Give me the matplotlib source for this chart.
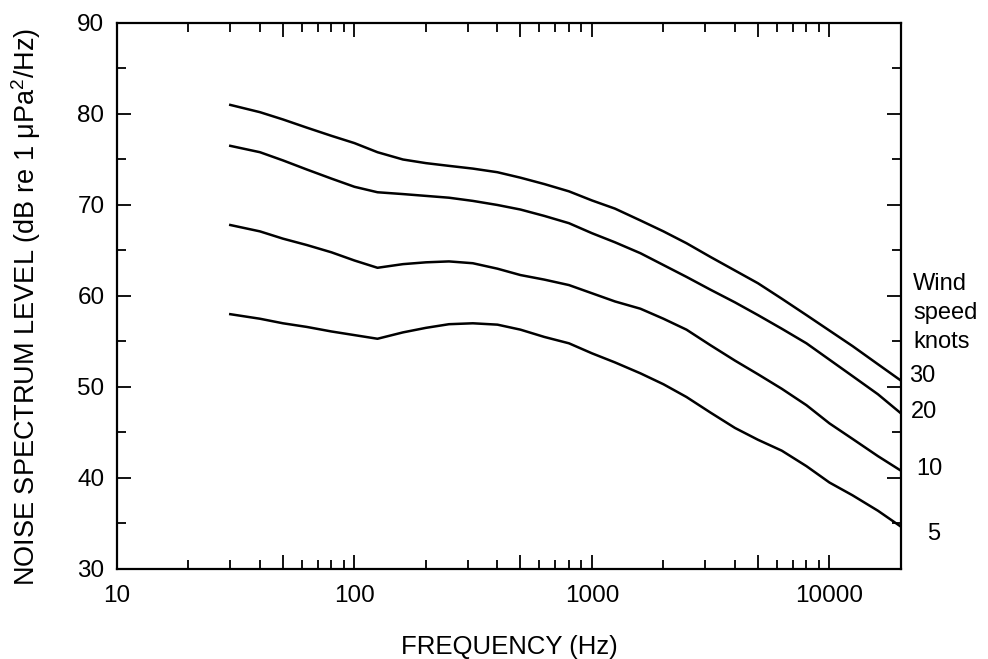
import matplotlib
matplotlib.use('Agg')
import matplotlib.pyplot as plt
from matplotlib.ticker import FixedLocator, FuncFormatter

plt.rcParams['font.family'] = ['Liberation Sans', 'DejaVu Sans']
plt.rcParams['mathtext.fontset'] = 'custom'
plt.rcParams['mathtext.rm'] = 'Liberation Sans'
plt.rcParams['mathtext.it'] = 'Liberation Sans:italic'

# frequency grid (Hz)
freq = [30, 40, 50, 63, 80, 100, 125, 160, 200, 250, 315, 400, 500, 630, 800,
        1000, 1250, 1600, 2000, 2500, 3150, 4000, 5000, 6300, 8000,
        10000, 12500, 16000, 20000]

# noise spectrum level (dB re 1 uPa^2/Hz) per wind speed
knots30 = [81.0, 80.2, 79.4, 78.5, 77.6, 76.8, 75.8, 75.0, 74.6, 74.3, 74.0, 73.6,
           73.0, 72.3, 71.5, 70.5, 69.6, 68.3, 67.1, 65.8, 64.3, 62.8, 61.4, 59.7,
           57.9, 56.2, 54.5, 52.5, 50.7]
knots20 = [76.5, 75.8, 74.9, 73.9, 72.9, 72.0, 71.4, 71.2, 71.0, 70.8, 70.45, 70.0,
           69.5, 68.8, 68.0, 66.9, 65.9, 64.7, 63.4, 62.1, 60.7, 59.3, 57.9, 56.4,
           54.8, 53.0, 51.2, 49.2, 47.1]
knots10 = [67.8, 67.1, 66.3, 65.6, 64.8, 63.9, 63.1, 63.5, 63.7, 63.8, 63.6, 63.0,
           62.3, 61.8, 61.2, 60.3, 59.4, 58.6, 57.5, 56.3, 54.6, 52.9, 51.4, 49.8,
           48.0, 46.0, 44.3, 42.4, 40.8]
knots5 = [58.0, 57.5, 57.0, 56.6, 56.1, 55.7, 55.3, 56.0, 56.5, 56.9, 57.0, 56.85,
          56.3, 55.5, 54.8, 53.7, 52.7, 51.5, 50.3, 48.9, 47.2, 45.5, 44.2, 43.0,
          41.3, 39.5, 38.1, 36.4, 34.65]

speeds = ['30', '20', '10', '5']
curves = [knots30, knots20, knots10, knots5]

fig = plt.figure(figsize=(9.88, 6.59), dpi=100)
ax = fig.add_axes([0.1184, 0.1366, 0.7935, 0.8285])

for y in curves:
    ax.plot(freq, y, color='black', lw=1.8)

ax.set_xscale('log')
ax.set_xlim(10, 20000)
ax.set_ylim(30, 90)

# decades and the 5x ticks get the long marks, labels only on decades
major_x = [10, 50, 100, 500, 1000, 5000, 10000]
minor_x = [m * d for d in [10, 100, 1000] for m in [2, 3, 4, 6, 7, 8, 9]] + [20000]
ax.xaxis.set_major_locator(FixedLocator(major_x))
ax.xaxis.set_minor_locator(FixedLocator(minor_x))
ax.xaxis.set_major_formatter(FuncFormatter(
    lambda v, p: '%d' % v if v in (10, 100, 1000, 10000) else ''))
ax.xaxis.set_minor_formatter(FuncFormatter(lambda v, p: ''))
ax.set_yticks(range(30, 91, 10))
ax.set_yticks(range(35, 90, 10), minor=True)

ax.tick_params(which='both', direction='in', top=True, right=True,
               width=1.3, labelsize=17.5)
ax.tick_params(which='major', length=10)
ax.tick_params(which='minor', length=6.3)
ax.tick_params(axis='y', pad=9)
ax.tick_params(axis='x', pad=11.5)
for s in ax.spines.values():
    s.set_linewidth(1.6)

ax.set_xlabel('FREQUENCY (Hz)', fontsize=18.5, labelpad=20)
ax.set_ylabel(r'NOISE SPECTRUM LEVEL (dB re 1 μPa$^{2}$/Hz)', fontsize=19.5)
ax.yaxis.set_label_coords(-0.094, 0.48)

# wind speed labels to the right of the curves
ax.text(1.0153, 0.511, 'Wind', transform=ax.transAxes, fontsize=17, va='baseline')
ax.text(1.0153, 0.458, 'speed', transform=ax.transAxes, fontsize=17, va='baseline')
ax.text(1.0153, 0.405, 'knots', transform=ax.transAxes, fontsize=17, va='baseline')
label_pos = [(1.0106, 0.343), (1.0124, 0.277), (1.020, 0.172), (1.0328, 0.053)]
for s, (tx, ty) in zip(speeds, label_pos):
    ax.text(tx, ty, s, transform=ax.transAxes, fontsize=17, va='baseline')

fig.savefig('out.png', dpi=100)
